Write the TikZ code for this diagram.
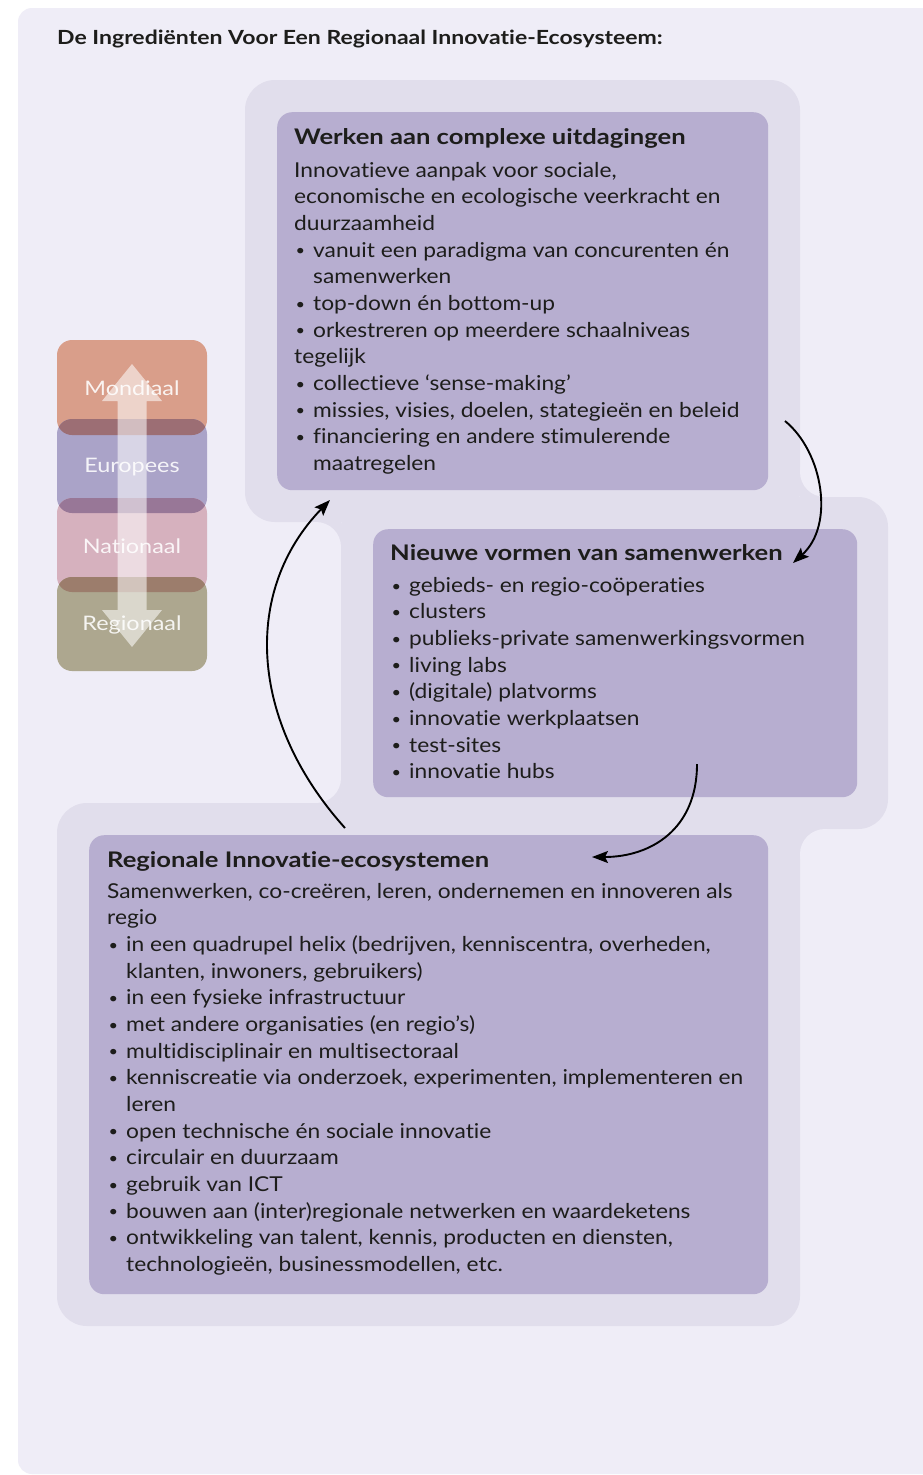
\documentclass[tikz,border=0pt]{standalone}
\usepackage{fontspec}
\setmainfont{Lato}[FakeStretch=1.11, Ligatures=NoCommon]
\newfontfamily\hfont{Lato}[FakeStretch=1.19, Ligatures=NoCommon]
\newfontfamily\tfont{Lato}[FakeStretch=1.18, Ligatures=NoCommon]
\newfontfamily\lfont{Lato}[FakeStretch=1.17, Ligatures=NoCommon]
\usetikzlibrary{arrows.meta}
\definecolor{panel}{HTML}{EFEDF7}
\definecolor{halo}{HTML}{E1DEEC}
\definecolor{boxc}{HTML}{B7AED0}
\definecolor{ink}{HTML}{1D1D1B}
\definecolor{cM}{HTML}{D99E8A}
\definecolor{cE}{HTML}{AAA3C8}
\definecolor{cN}{HTML}{D6B1BE}
\definecolor{cR}{HTML}{ADA78F}
\definecolor{oME}{HTML}{9C6E74}
\definecolor{oEN}{HTML}{987797}
\definecolor{oNR}{HTML}{9C7D6C}
\newcommand\bl{\makebox[19pt][l]{\hspace*{1.5pt}\raisebox{1.3pt}{\scalebox{0.72}{\textbullet}}}}
\newcommand\ind{\hspace*{19pt}}
\begin{document}
\begin{tikzpicture}[x=1pt,y=-1pt,
  boxst/.style={fill=boxc, rounded corners=15pt, inner sep=0pt, anchor=north west},
  lvl/.style={rounded corners=15pt},
  lbl/.style={text=white, text opacity=0.88, font={\lfont\fontsize{20}{24}\selectfont}},
  ttl/.style={anchor=base west, inner sep=0pt, text=ink, font={\hfont\fontsize{21.5}{26}\selectfont\bfseries}},
  bodytxt/.style={anchor=north west, inner sep=0pt, align=left, text=ink, font={\fontsize{20.5}{26.65}\selectfont}},
  conn/.style={draw=black, line width=1.9pt, -{Stealth[length=16pt,width=12pt,inset=3pt]}}]
\useasboundingbox (0,0) rectangle (922,1475);
\fill[white] (0,0) rectangle (922,1475);
\fill[panel, rounded corners=14pt] (18,8) rectangle (960,1474);
% title
\node[anchor=base west, inner sep=0pt, text=ink, font={\tfont\fontsize{19.5}{22}\selectfont\bfseries}] (title) at (57,44) {De Ingrediënten Voor Een Regionaal Innovatie-Ecosysteem:};
% halo shapes
\fill[halo, rounded corners=30pt] (245,80) rectangle (800,522);
\fill[halo, rounded corners=30pt] (341,497) rectangle (888,829);
\fill[halo, rounded corners=30pt] (57,803) rectangle (800,1326);
% concave fillets
\fill[halo] (800,472) rectangle (825,497);
\fill[panel] (825,472) circle (25);
\fill[halo] (316,522) rectangle (341,547);
\fill[panel] (316,547) circle (25);
\fill[halo] (316,778) rectangle (341,803);
\fill[panel] (316,778) circle (25);
\fill[halo] (800,829) rectangle (825,854);
\fill[panel] (825,854) circle (25);
% boxes
\node[boxst, minimum width=491pt, minimum height=378pt] (topbox) at (277,112) {};
\node[boxst, minimum width=484pt, minimum height=268pt] (midbox) at (373,529) {};
\node[boxst, minimum width=679pt, minimum height=459pt] (botbox) at (89,835) {};
% level stack
\fill[cM, lvl] (57,340) rectangle (207,435);
\fill[cE, lvl] (57,419) rectangle (207,513);
\fill[cN, lvl] (57,498) rectangle (207,592);
\fill[cR, lvl] (57,577) rectangle (207,671);
\begin{scope}
  \clip[lvl] (57,340) rectangle (207,435);
  \fill[oME, lvl] (57,419) rectangle (207,513);
\end{scope}
\begin{scope}
  \clip[lvl] (57,419) rectangle (207,513);
  \fill[oEN, lvl] (57,498) rectangle (207,592);
\end{scope}
\begin{scope}
  \clip[lvl] (57,498) rectangle (207,592);
  \fill[oNR, lvl] (57,577) rectangle (207,671);
\end{scope}
\fill[white, opacity=0.55] (132,364) -- (162,401) -- (146.5,401) -- (146.5,610) -- (162,610) -- (132,647) -- (102,610) -- (117.5,610) -- (117.5,401) -- (102,401) -- cycle;
\node[lbl] (mon) at (132,388) {Mondiaal};
\node[lbl] (eur) at (132,467) {Europees};
\node[lbl] (nat) at (132,546) {Nationaal};
\node[lbl] (reg) at (132,625) {Regionaal};
% top box text
\node[ttl] (t1) at (294,144) {Werken aan complexe uitdagingen};
\node[bodytxt] (b1) at (294,162) {Innovatieve aanpak voor sociale,\\
economische en ecologische veerkracht en\\
duurzaamheid\\
\bl vanuit een paradigma van concurenten én\\
\ind samenwerken\\
\bl top-down én bottom-up\\
\bl orkestreren op meerdere schaalniveas\\
tegelijk\\
\bl collectieve ‘sense-making’\\
\bl missies, visies, doelen, stategieën en beleid\\
\bl financiering en andere stimulerende\\
\ind maatregelen};
% middle box text
\node[ttl] (t2) at (390,560) {Nieuwe vormen van samenwerken};
\node[bodytxt] (b2) at (390,577) {\bl gebieds- en regio-coöperaties\\
\bl clusters\\
\bl publieks-private samenwerkingsvormen\\
\bl living labs\\
\bl (digitale) platvorms\\
\bl innovatie werkplaatsen\\
\bl test-sites\\
\bl innovatie hubs};
% bottom box text
\node[ttl] (t3) at (107,867) {Regionale Innovatie-ecosystemen};
\node[bodytxt] (b3) at (107,883) {Samenwerken, co-creëren, leren, ondernemen en innoveren als\\
regio\\
\bl in een quadrupel helix (bedrijven, kenniscentra, overheden,\\
\ind klanten, inwoners, gebruikers)\\
\bl in een fysieke infrastructuur\\
\bl met andere organisaties (en regio’s)\\
\bl multidisciplinair en multisectoraal\\
\bl kenniscreatie via onderzoek, experimenten, implementeren en\\
\ind leren\\
\bl open technische én sociale innovatie\\
\bl circulair en duurzaam\\
\bl gebruik van ICT\\
\bl bouwen aan (inter)regionale netwerken en waardeketens\\
\bl ontwikkeling van talent, kennis, producten en diensten,\\
\ind technologieën, businessmodellen, etc.};
% connectors
\coordinate (a1s) at (785,421);
\coordinate (a1e) at (793,563);
\coordinate (a2s) at (697,764);
\coordinate (a2e) at (592,857);
\coordinate (a3s) at (345,828);
\coordinate (a3e) at (330,500);
\draw[conn] (a1s) .. controls (823,452) and (835,525) .. (a1e);
\draw[conn] (a2s) .. controls (697,830) and (650,857) .. (a2e);
\draw[conn] (a3s) .. controls (248,720) and (243,590) .. (a3e);
\end{tikzpicture}
\end{document}
